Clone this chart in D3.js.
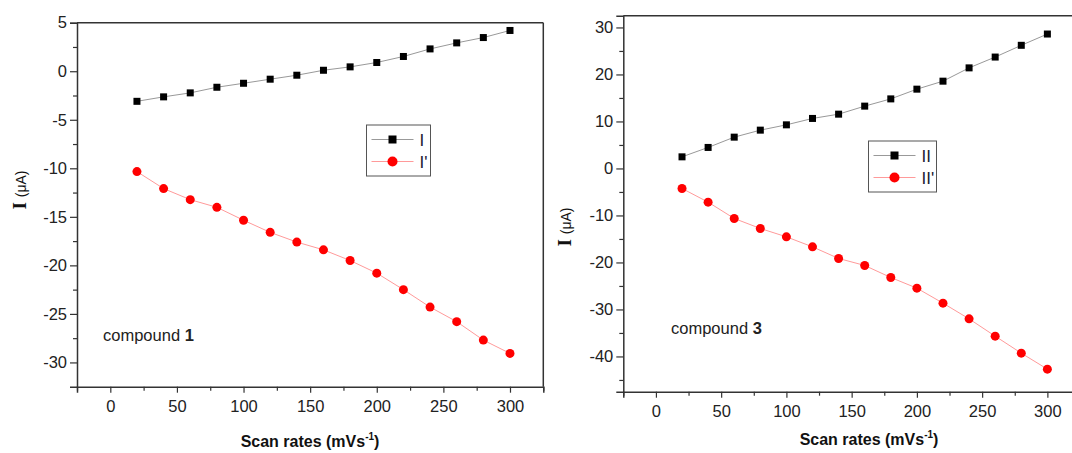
<!DOCTYPE html>
<html>
<head>
<meta charset="utf-8">
<script src="https://cdn.jsdelivr.net/npm/d3@7"></script>
<style>
  body { margin: 0; background: #fff; }
  svg { display: block; font-family: "Liberation Sans", Arial, sans-serif; }
</style>
</head>
<body>
<svg id="canvas" width="1072" height="453"></svg>
<script>
// scan rates in mV/s, shared by both compounds
const scanRates = [20, 40, 60, 80, 100, 120, 140, 160, 180, 200, 220, 240, 260, 280, 300]

// compound 1 peak currents (uA)
const peakI = [-3.1, -2.64, -2.23, -1.65, -1.24, -0.82, -0.41, 0.1, 0.45, 0.9, 1.52, 2.3, 2.92, 3.47, 4.2]
const peakIp = [-10.34, -12.09, -13.23, -14.02, -15.35, -16.6, -17.6, -18.4, -19.5, -20.8, -22.5, -24.3, -25.8, -27.7, -29.07]

// compound 3 peak currents (uA)
const peakII = [2.47, 4.47, 6.66, 8.15, 9.28, 10.64, 11.55, 13.26, 14.8, 16.87, 18.57, 21.4, 23.7, 26.2, 28.6]
const peakIIp = [-4.26, -7.17, -10.64, -12.77, -14.55, -16.68, -19.15, -20.64, -23.2, -25.47, -28.66, -32.0, -35.68, -39.3, -42.7]

const xMajor = [0, 50, 100, 150, 200, 250, 300]
const xMinor = [-25, 25, 75, 125, 175, 225, 275, 325]
const yMajor1 = [5, 0, -5, -10, -15, -20, -25, -30]
const yMinor1 = [2.5, -2.5, -7.5, -12.5, -17.5, -22.5, -27.5]
const yMajor3 = [30, 20, 10, 0, -10, -20, -30, -40]
const yMinor3 = [25, 15, 5, -5, -15, -25, -35, -45]

const svg = d3.select('#canvas')
const axisColor = '#333'

function drawPanel(p) {
    const x = d3.scaleLinear().domain([-25, 325]).range([p.left, p.right])
    const y = d3.scaleLinear().domain(p.yDomain).range([p.bottom, p.top])
    const g = svg.append('g')

    // frame (top + right)
    g.append('line').attr('x1', p.left).attr('x2', p.right).attr('y1', p.top).attr('y2', p.top)
        .attr('stroke', axisColor).attr('stroke-width', 1.5)
    g.append('line').attr('x1', p.right).attr('x2', p.right).attr('y1', p.top).attr('y2', p.bottom)
        .attr('stroke', axisColor).attr('stroke-width', 1.5)

    // x axis
    g.append('g').attr('transform', `translate(0,${p.bottom})`)
        .call(d3.axisBottom(x).tickValues(xMajor).tickSize(6).tickPadding(8).tickFormat(d => String(d)))
    g.append('g').attr('transform', `translate(0,${p.bottom})`)
        .call(d3.axisBottom(x).tickValues(xMinor).tickSize(4).tickFormat(''))
        .select('.domain').remove()

    // y axis
    g.append('g').attr('transform', `translate(${p.left},0)`)
        .call(d3.axisLeft(y).tickValues(p.yMajor).tickSize(7).tickPadding(3).tickFormat(d => String(d)))
    g.append('g').attr('transform', `translate(${p.left},0)`)
        .call(d3.axisLeft(y).tickValues(p.yMinor).tickSize(4).tickFormat(''))
        .select('.domain').remove()

    g.selectAll('.domain').attr('stroke', axisColor).attr('stroke-width', 1.5)
    g.selectAll('.tick line').attr('stroke', axisColor).attr('stroke-width', 1.2)
    g.selectAll('.tick text').attr('font-size', 16.5).attr('fill', '#222')
        .attr('font-family', '"Liberation Sans", Arial, sans-serif')

    // series lines
    const lineGen = vals => d3.line().x((d, i) => x(scanRates[i])).y(d => y(d))(vals)
    g.append('path').attr('d', lineGen(p.upper)).attr('fill', 'none').attr('stroke', '#999').attr('stroke-width', 1)
    g.append('path').attr('d', lineGen(p.lower)).attr('fill', 'none').attr('stroke', '#ff9a9a').attr('stroke-width', 1)

    g.selectAll('rect.pt').data(p.upper).enter().append('rect').attr('class', 'pt')
        .attr('x', (d, i) => x(scanRates[i]) - 3.5).attr('y', d => y(d) - 3.5)
        .attr('width', 7).attr('height', 7).attr('fill', '#000')
    g.selectAll('circle.pt').data(p.lower).enter().append('circle').attr('class', 'pt')
        .attr('cx', (d, i) => x(scanRates[i])).attr('cy', d => y(d))
        .attr('r', 4.5).attr('fill', '#ff0000')

    // legend
    const lg = g.append('g').attr('transform', `translate(${p.legendX},${p.legendY})`)
    lg.append('rect').attr('width', p.legendW).attr('height', 51).attr('fill', '#fff')
        .attr('stroke', '#555').attr('stroke-width', 1)
    lg.append('line').attr('x1', 5).attr('x2', 47).attr('y1', 14.5).attr('y2', 14.5).attr('stroke', '#999')
    lg.append('rect').attr('x', 22).attr('y', 10.5).attr('width', 8).attr('height', 8).attr('fill', '#000')
    lg.append('line').attr('x1', 5).attr('x2', 47).attr('y1', 36.5).attr('y2', 36.5).attr('stroke', '#ff9a9a')
    lg.append('circle').attr('cx', 26).attr('cy', 36.5).attr('r', 5).attr('fill', '#ff0000')
    lg.append('text').attr('x', 53).attr('y', 21).attr('font-size', 17).attr('fill', '#1a1a33').text(p.labels[0])
    lg.append('text').attr('x', 53).attr('y', 43).attr('font-size', 17).attr('fill', '#1a1a33').text(p.labels[1])

    // compound note
    const note = g.append('text').attr('x', p.noteX).attr('y', p.noteY).attr('font-size', 16.5).attr('fill', '#222')
    note.append('tspan').text('compound ')
    note.append('tspan').attr('font-weight', 'bold').text(p.compound)

    // x title
    const xt = g.append('text').attr('x', p.xTitleX).attr('y', p.xTitleY).attr('text-anchor', 'middle')
        .attr('font-size', 16).attr('font-weight', 'bold').attr('fill', '#111')
    xt.append('tspan').text('Scan rates (mVs')
    xt.append('tspan').attr('font-size', 10).attr('dy', -7).text('-1')
    xt.append('tspan').attr('dy', 7).text(')')

    // y title
    const yt = g.append('text').attr('transform', `translate(${p.yTitleX},${p.yTitleY}) rotate(-90)`)
        .attr('text-anchor', 'middle').attr('fill', '#111')
    yt.append('tspan').attr('font-family', '"Liberation Serif", "Times New Roman", serif')
        .attr('font-weight', 'bold').attr('font-size', 19).text('I ')
    yt.append('tspan').attr('font-size', 14).text('(\u03bcA)')
}

drawPanel({
    left: 77, right: 543.3, top: 22.7, bottom: 386.7,
    yDomain: [-32.5, 5], yMajor: yMajor1, yMinor: yMinor1,
    upper: peakI, lower: peakIp, labels: ['I', "I'"], legendW: 64,
    legendX: 366.5, legendY: 125,
    compound: '1', noteX: 103, noteY: 341,
    xTitleX: 310, xTitleY: 447,
    yTitleX: 26, yTitleY: 190
})

drawPanel({
    left: 623.3, right: 1080, top: 15.7, bottom: 391.7,
    yDomain: [-47.5, 32.5], yMajor: yMajor3, yMinor: yMinor3,
    upper: peakII, lower: peakIIp, labels: ['II', "II'"], legendW: 68,
    legendX: 868.5, legendY: 141,
    compound: '3', noteX: 671, noteY: 334,
    xTitleX: 869, xTitleY: 445,
    yTitleX: 571, yTitleY: 227
})
</script>
</body>
</html>
